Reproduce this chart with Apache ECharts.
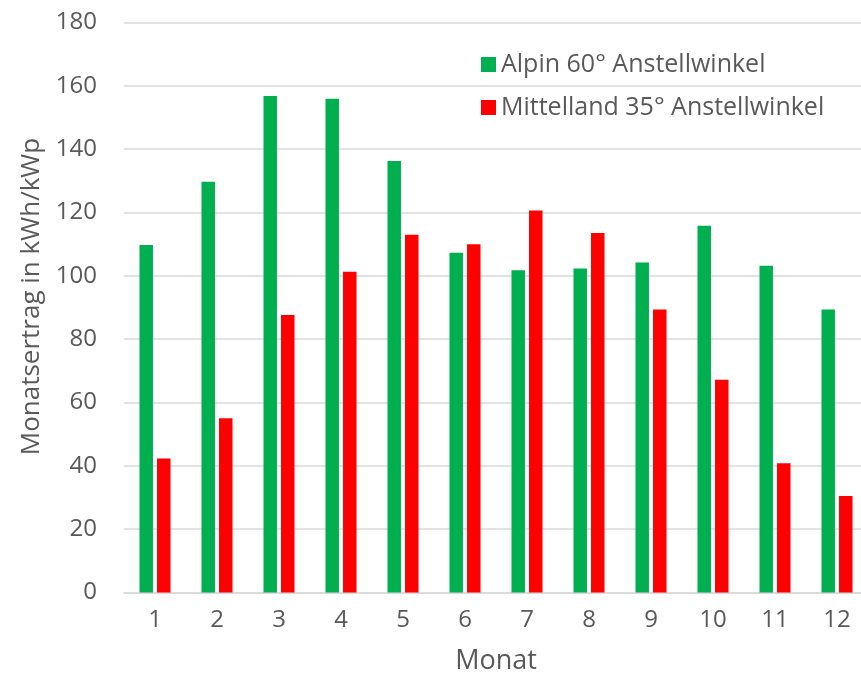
<!DOCTYPE html>
<html>
<head>
<meta charset="UTF-8">
<title>Monatsertrag</title>
<script src="https://cdn.jsdelivr.net/npm/echarts@6/dist/echarts.min.js"></script>
<style>
  html, body { margin: 0; padding: 0; background: #fff; }
  #main { width: 861px; height: 673px; }
</style>
</head>
<body>
<div id="main"></div>
<script>
  // Daten
  var monate = ['1', '2', '3', '4', '5', '6', '7', '8', '9', '10', '11', '12'];
  var alpin = [109.7, 129.7, 156.8, 155.9, 136.3, 107.3, 101.8, 102.3, 104.2, 115.8, 103.2, 89.4];
  var mittelland = [42.3, 55.0, 87.6, 101.3, 113.0, 110.0, 120.6, 113.5, 89.4, 67.2, 40.8, 30.5];
  var serienNamen = ['Alpin 60° Anstellwinkel', 'Mittelland 35° Anstellwinkel'];

  var schrift = 'Open Sans';
  var grau = '#595959';

  var myChart = echarts.init(document.getElementById('main'));
  var option = {
    animation: false,
    textStyle: { fontFamily: schrift, color: grau },
    grid: { left: 124, top: 22.5, width: 744, height: 570, outerBoundsMode: 'none', containLabel: false },
    legend: {
      orient: 'vertical',
      left: 476,
      top: 47,
      itemWidth: 15,
      itemHeight: 15,
      itemGap: 18,
      icon: 'rect',
      textStyle: { fontFamily: schrift, fontSize: 25, color: grau },
      data: serienNamen
    },
    xAxis: {
      type: 'category',
      data: monate,
      name: 'Monat',
      nameLocation: 'middle',
      nameGap: 55,
      nameTextStyle: { fontSize: 27, color: grau, fontFamily: schrift },
      axisLine: { lineStyle: { color: '#D9D9D9', width: 1.5 } },
      axisTick: { show: false },
      axisLabel: { fontSize: 24, color: grau, margin: 16 }
    },
    yAxis: {
      type: 'value',
      min: 0,
      max: 180,
      interval: 20,
      name: 'Monatsertrag in kWh/kWp',
      nameLocation: 'middle',
      nameGap: 73,
      nameTextStyle: { fontSize: 26, color: grau, fontFamily: schrift, padding: [0, 0, 0, 22] },
      axisLabel: { fontSize: 24, color: grau, margin: 27 },
      splitLine: { lineStyle: { color: '#D9D9D9', width: 1.5 } }
    },
    series: [
      {
        name: serienNamen[0],
        type: 'bar',
        data: alpin,
        barWidth: 13.5,
        barGap: '30%',
        itemStyle: { color: '#00B050' }
      },
      {
        name: serienNamen[1],
        type: 'bar',
        data: mittelland,
        barWidth: 13.5,
        itemStyle: { color: '#FF0000' }
      }
    ]
  };
  myChart.setOption(option);
</script>
</body>
</html>
